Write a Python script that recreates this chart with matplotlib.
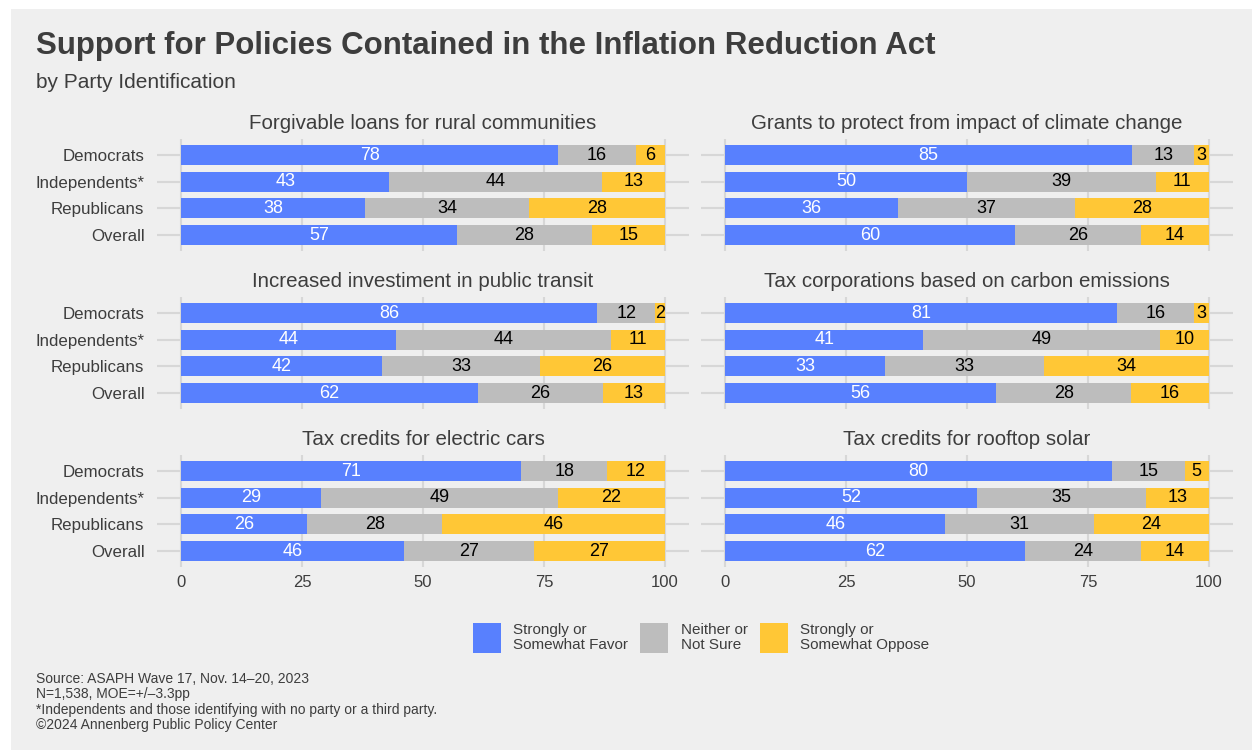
import numpy as np
import matplotlib.pyplot as plt
from matplotlib.patches import Rectangle

plt.rcParams['font.family'] = ['Liberation Sans', 'DejaVu Sans']

groups = ['Democrats', 'Independents*', 'Republicans', 'Overall']
policies = [
    'Forgivable loans for rural communities',
    'Grants to protect from impact of climate change',
    'Increased investiment in public transit',
    'Tax corporations based on carbon emissions',
    'Tax credits for electric cars',
    'Tax credits for rooftop solar',
]
# rows follow groups order
favor = [
    [78, 43, 38, 57],
    [85, 50, 36, 60],
    [86, 44, 42, 62],
    [81, 41, 33, 56],
    [71, 29, 26, 46],
    [80, 52, 46, 62],
]
neither = [
    [16, 44, 34, 28],
    [13, 39, 37, 26],
    [12, 44, 33, 26],
    [16, 49, 33, 28],
    [18, 49, 28, 27],
    [15, 35, 31, 24],
]
oppose = [
    [6, 13, 28, 15],
    [3, 11, 28, 14],
    [2, 11, 26, 13],
    [3, 10, 34, 16],
    [12, 22, 46, 27],
    [5, 13, 24, 14],
]
response_labels = ['Strongly or\nSomewhat Favor', 'Neither or\nNot Sure',
                   'Strongly or\nSomewhat Oppose']
colors = ['#5880fe', '#bdbdbd', '#ffc736']
text_col = '#3d3d3d'
bg = '#efefef'

W, H = 1252, 750
fig = plt.figure(figsize=(W / 100, H / 100), dpi=100)
fig.patch.set_facecolor('white')
fig.patches.append(Rectangle((11 / W, 0), 1, 1 - 9 / H, transform=fig.transFigure,
                             facecolor=bg, edgecolor='none', zorder=-10))

# panel geometry in pixels
lefts = [157, 701]
tops = [139, 297, 455]
aw, ah = 532, 112

handles = None
for i, pol in enumerate(policies):
    r, c = divmod(i, 2)
    ax = fig.add_axes([lefts[c] / W, 1 - (tops[r] + ah) / H, aw / W, ah / H])
    ax.set_facecolor(bg)
    y = np.arange(len(groups))
    vals = np.array([favor[i], neither[i], oppose[i]], dtype=float)
    shares = vals / vals.sum(axis=0) * 100
    left = np.zeros(len(groups))
    hs = []
    for k in range(3):
        b = ax.barh(y, shares[k], left=left, height=0.75, color=colors[k],
                    label=response_labels[k], zorder=3)
        hs.append(b)
        for j in range(len(groups)):
            ax.text(left[j] + shares[k][j] / 2, y[j], f'{int(vals[k][j])}',
                    ha='center', va='center', fontsize=13,
                    color='white' if k == 0 else 'black', zorder=4)
        left += shares[k]
    handles = hs
    ax.set_xlim(-5, 105)
    ax.set_ylim(len(groups) - 0.4, -0.6)
    ax.set_yticks(y)
    ax.set_yticklabels(groups if c == 0 else [''] * len(groups),
                       fontsize=12.2, color=text_col)
    ax.set_xticks([0, 25, 50, 75, 100])
    if r == 2:
        ax.set_xticklabels(['0', '25', '50', '75', '100'], fontsize=12, color=text_col)
    else:
        ax.set_xticklabels([])
    ax.tick_params(length=0, pad=9)
    ax.tick_params(axis='x', pad=6)
    ax.grid(True, color='#d7d7d7', linewidth=1.5, zorder=0)
    for s in ax.spines.values():
        s.set_visible(False)
    ax.set_title(pol, fontsize=14.8, color=text_col, pad=7)

fig.text(36 / W, 1 - 46 / H, 'Support for Policies Contained in the Inflation Reduction Act',
         fontsize=22.5, fontweight='bold', color=text_col, va='center')
fig.text(36 / W, 1 - 82 / H, 'by Party Identification', fontsize=15,
         color=text_col, va='center')

leg = fig.legend(handles=handles, labels=response_labels, loc='center',
                 bbox_to_anchor=(701 / W, 1 - 638 / H), ncol=3, frameon=False,
                 fontsize=11, handlelength=1.83, handleheight=2.6,
                 handletextpad=0.8, columnspacing=0.8)
for t in leg.get_texts():
    t.set_color(text_col)
    t.set_linespacing(1.05)

footer = ['Source: ASAPH Wave 17, Nov. 14\u201320, 2023',
          'N=1,538, MOE=+/\u20133.3pp',
          '*Independents and those identifying with no party or a third party.',
          '\u00a92024 Annenberg Public Policy Center']
for n, line in enumerate(footer):
    fig.text(36 / W, 1 - (679 + 15.3 * n) / H, line, fontsize=10,
             color=text_col, va='center')

fig.savefig('out.png', dpi=100, facecolor='white')
